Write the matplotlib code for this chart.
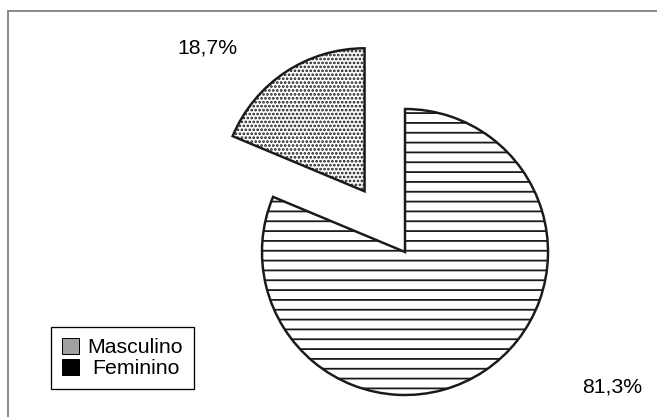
import matplotlib.pyplot as plt
from matplotlib.patches import Patch, Rectangle

# Data
labels = ['Masculino', 'Feminino']
values = [18.7, 81.3]
hatches = ['.....', '--']
legend_colors = ['#a0a0a0', '#000000']

plt.rcParams['font.family'] = ['Liberation Sans', 'DejaVu Sans']
plt.rcParams['hatch.color'] = '#2a2a2a'
plt.rcParams['hatch.linewidth'] = 1.1

W, H, DPI = 657, 417, 118
fig = plt.figure(figsize=(W / DPI, H / DPI), dpi=DPI)
ax = fig.add_axes([0, 0, 1, 1])

# pie center and radius in pixels, mapped through axis limits
cx, cy, r = 405, 417 - 252, 143

wedges, _ = ax.pie(values, startangle=90, counterclock=True,
                   explode=[0.51, 0], radius=1, center=(0, 0),
                   colors=['white', 'white'],
                   wedgeprops=dict(edgecolor='#1a1a1a', linewidth=1.5))
for w, h in zip(wedges, hatches):
    w.set_hatch(h)
ax.set_aspect('auto')
ax.set_xlim(-cx / r, (W - cx) / r)
ax.set_ylim(-cy / r, (H - cy) / r)
ax.axis('off')

fmt = lambda v: f"{v:.1f}".replace('.', ',') + '%'
ax.text(-1.385, 1.430, fmt(values[0]), ha='center', va='center', fontsize=13)
ax.text(1.448, -0.944, fmt(values[1]), ha='center', va='center', fontsize=13)

# legend
handles = [Patch(facecolor=c, edgecolor='black', linewidth=0.6) for c in legend_colors]
leg = ax.legend(handles, labels, loc='lower left',
                bbox_to_anchor=(51 / W, 28 / H), bbox_transform=fig.transFigure,
                borderaxespad=0, fancybox=False, fontsize=13,
                handlelength=0.8, handleheight=0.8, handletextpad=0.42,
                labelspacing=0.08, borderpad=0.5, framealpha=1)
leg.get_frame().set_edgecolor('black')
leg.get_frame().set_linewidth(0.8)
# centre the shorter label like in the original
row2 = leg._legend_handle_box.get_children()[0].get_children()[1]
row2.sep += 3

# outer frame (only top and left visible)
fig.add_artist(Rectangle((7.5 / W, -0.1), 1.2, (H - 11) / H + 0.1,
                         transform=fig.transFigure, fill=False,
                         edgecolor='#808080', linewidth=1.1))

fig.savefig('out.png', dpi=DPI)
